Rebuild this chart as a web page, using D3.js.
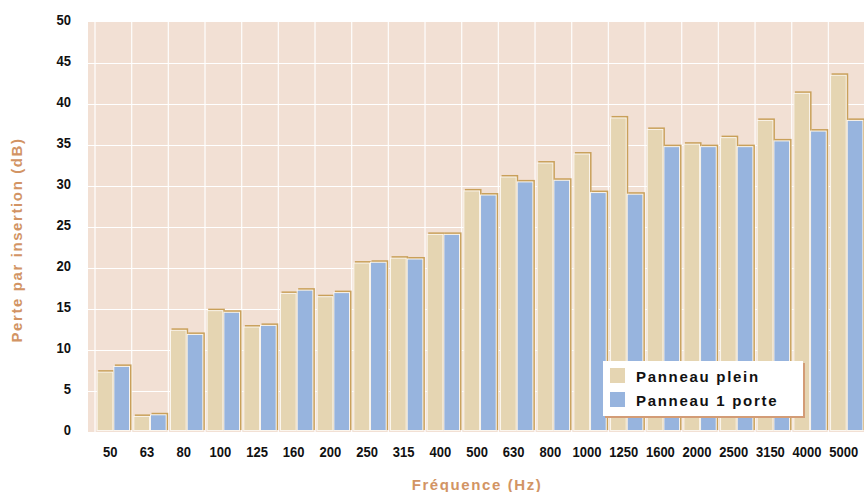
<!DOCTYPE html>
<html>
<head>
<meta charset="utf-8">
<script src="https://cdn.jsdelivr.net/npm/d3@7"></script>
<style>
  html, body { margin: 0; padding: 0; background: #fff; }
  svg { display: block; }
  .tick-label { font-family: "Liberation Sans", Arial, sans-serif; font-weight: bold; font-size: 15.5px; fill: #111; }
  .axis-title { font-family: "Liberation Sans", Arial, sans-serif; font-weight: bold; font-size: 15px; fill: #d29464; letter-spacing: 1.6px; }
  .legend-text { font-family: "Liberation Sans", Arial, sans-serif; font-weight: bold; font-size: 15px; fill: #111; letter-spacing: 1.7px; }
</style>
</head>
<body>
<svg id="chart" width="864" height="492"></svg>
<script>
// frequencies (Hz)
var categories = ['50', '63', '80', '100', '125', '160', '200', '250', '315', '400', '500',
  '630', '800', '1000', '1250', '1600', '2000', '2500', '3150', '4000', '5000'];
var series = ['Panneau plein', 'Panneau 1 porte'];
// insertion loss (dB)
var pleinValues = [7.3, 1.9, 12.4, 14.8, 12.8, 16.9, 16.5, 20.6, 21.2, 24.1, 29.4,
  31.1, 32.8, 33.9, 38.3, 36.9, 35.1, 35.9, 38.0, 41.3, 43.5];
var porteValues = [8.0, 2.1, 11.9, 14.6, 13.0, 17.3, 17.0, 20.7, 21.1, 24.1, 28.9,
  30.5, 30.7, 29.2, 29.0, 34.8, 34.8, 34.8, 35.5, 36.7, 38.0];
var yTicks = [0, 5, 10, 15, 20, 25, 30, 35, 40, 45, 50];

var colors = { 'Panneau plein': '#e5d5b2', 'Panneau 1 porte': '#97b4de' };

var svg = d3.select('#chart');

var x = d3.scaleBand().domain(categories).range([95, 95 + 21 * 36.67]).padding(0);
var xs = d3.scaleBand().domain(series).range([0, x.bandwidth()]).paddingInner(0).paddingOuter(0.1);
var y = d3.scaleLinear().domain([0, 50]).range([432, 22]);

// plot background
svg.append('rect')
  .attr('x', 88).attr('y', y(50))
  .attr('width', 864 - 88).attr('height', y(0) - y(50))
  .attr('fill', '#f2e0d4');

// grid
svg.append('g').selectAll('line')
  .data(yTicks.slice(1, -1))
  .enter().append('line')
  .attr('x1', 88).attr('x2', 864)
  .attr('y1', function(d) { return y(d) + 0.5; })
  .attr('y2', function(d) { return y(d) + 0.5; })
  .attr('stroke', '#fff').attr('stroke-width', 1.2);

svg.append('g').selectAll('line')
  .data(categories)
  .enter().append('line')
  .attr('x1', function(d) { return x(d); })
  .attr('x2', function(d) { return x(d); })
  .attr('y1', y(50)).attr('y2', y(0))
  .attr('stroke', '#fff').attr('stroke-width', 1.3).attr('opacity', 0.9);

// bars
var rows = categories.map(function(c, i) {
  return { cat: c, vals: [
    { s: series[0], v: pleinValues[i] },
    { s: series[1], v: porteValues[i] }
  ] };
});

var groups = svg.append('g').selectAll('g')
  .data(rows)
  .enter().append('g')
  .attr('transform', function(d) { return 'translate(' + x(d.cat) + ',0)'; });

// golden shadow behind each bar
groups.selectAll('rect.shadow')
  .data(function(d) { return d.vals; })
  .enter().append('rect')
  .attr('class', 'shadow')
  .attr('x', function(d) { return xs(d.s) + 1.5; })
  .attr('y', function(d) { return y(d.v) - 2; })
  .attr('width', xs.bandwidth())
  .attr('height', function(d) { return y(0) - y(d.v); })
  .attr('fill', '#c9a05a');

groups.selectAll('rect.bar')
  .data(function(d) { return d.vals; })
  .enter().append('rect')
  .attr('class', 'bar')
  .attr('x', function(d) { return xs(d.s) + 0.5; })
  .attr('y', function(d) { return y(d.v); })
  .attr('width', xs.bandwidth() - 1)
  .attr('height', function(d) { return y(0) - y(d.v) - 1.5; })
  .attr('fill', function(d) { return colors[d.s]; })
  .attr('stroke', '#fbf6ee').attr('stroke-width', 1);

// tick labels are drawn in a condensed bold face (horizontal squeeze)
var squeeze = 0.84;

// y tick labels
svg.append('g').selectAll('text')
  .data(yTicks)
  .enter().append('text')
  .attr('class', 'tick-label')
  .attr('transform', function(d) { return 'translate(71,' + (y(d) + 2.5) + ') scale(' + squeeze + ',1)'; })
  .attr('text-anchor', 'end')
  .text(function(d) { return d; });

// x tick labels
svg.append('g').selectAll('text')
  .data(categories)
  .enter().append('text')
  .attr('class', 'tick-label')
  .attr('transform', function(d) {
    return 'translate(' + (x(d) + x.bandwidth() / 2 - 3) + ',457) scale(' + squeeze + ',1)';
  })
  .attr('text-anchor', 'middle')
  .text(function(d) { return d; });

// axis titles
svg.append('text')
  .attr('class', 'axis-title')
  .attr('x', 477).attr('y', 490)
  .attr('text-anchor', 'middle')
  .text('Fréquence (Hz)');

svg.append('text')
  .attr('class', 'axis-title')
  .attr('transform', 'translate(22,240) rotate(-90)')
  .attr('text-anchor', 'middle')
  .text('Perte par insertion (dB)');

// legend
var legend = svg.append('g').attr('transform', 'translate(603,361)');
legend.append('rect')
  .attr('x', 2).attr('y', 2).attr('width', 200).attr('height', 55)
  .attr('fill', '#d39c76');
legend.append('rect')
  .attr('x', 0).attr('y', 0).attr('width', 200).attr('height', 55)
  .attr('fill', '#fff');
var items = legend.selectAll('g.item')
  .data(series)
  .enter().append('g')
  .attr('transform', function(d, i) { return 'translate(7,' + (7 + i * 24) + ')'; });
items.append('rect')
  .attr('width', 15).attr('height', 15)
  .attr('fill', function(d) { return colors[d]; });
items.append('text')
  .attr('class', 'legend-text')
  .attr('x', 26).attr('y', 13.5)
  .text(function(d) { return d; });
</script>
</body>
</html>
